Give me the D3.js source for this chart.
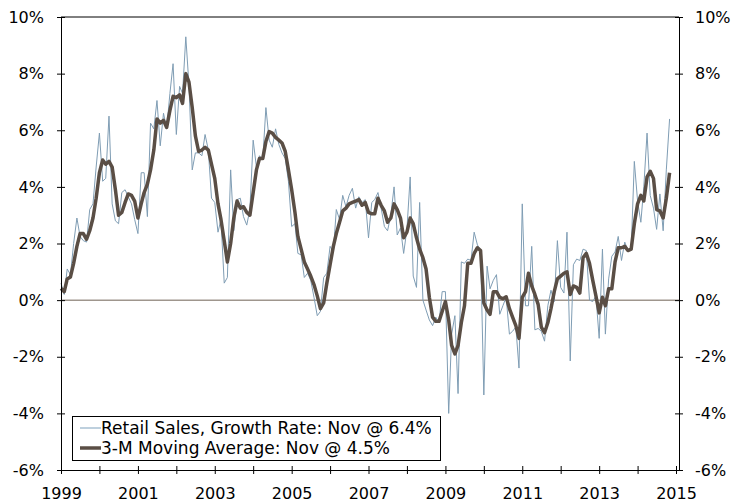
<html>
<head>
    <script src="https://d3js.org/d3.v7.min.js"></script>
    <style>
        body { margin: 0; background: #fff; }
        text { font-family: "DejaVu Sans", Verdana, sans-serif; font-size: 16px; fill: #000; }
        .axis path, .axis line { stroke: #000; stroke-width: 1; }
    </style>
</head>
<body>
    <svg class="chart" width="733" height="502"></svg>

    <script>

      // monthly, Jan 1999 .. Nov 2014 (% y/y)
      var retail = [
        0.6, 0.2, 1.1, 0.9, 2.0, 2.9, 2.25, 2.1, 2.05, 3.2, 3.4, 4.7,
        5.9, 4.2, 4.3, 6.5, 3.4, 2.8, 2.7, 3.8, 3.9, 3.65, 3.4, 2.85,
        2.35, 4.5, 4.5, 2.95, 6.25, 6.05, 7.05, 5.45, 6.6, 6.05, 7.3, 8.35,
        5.85, 7.55, 7.3, 9.3, 7.6, 4.6, 5.2, 5.2, 5.1, 5.85, 5.3, 3.6,
        3.45, 2.4, 2.85, 0.6, 0.8, 4.6, 2.45, 3.55, 3.6, 2.95, 2.65, 3.2,
        5.65, 4.7, 5.1, 4.95, 6.8, 5.65, 5.4, 6.05, 5.5, 5.2, 5.0, 4.2,
        2.6, 2.7, 1.65, 1.6, 0.8, 0.95, 0.7, 0.1, -0.55, -0.4, 0.8, 0.95,
        1.9, 1.7, 3.2, 2.85, 3.7, 3.3, 3.7, 3.95, 3.25, 3.65, 3.45, 3.55,
        2.2, 3.45, 3.55, 3.8, 3.25, 2.6, 2.45, 3.0, 4.0, 2.3, 2.55, 1.65,
        2.5, 4.35, 0.85, 0.45, 3.45, 0.0, -0.35, -0.7, -0.9, -0.6, -0.8, 0.3,
        0.3, -4.0, -1.2, -0.55, -3.3, 1.35, 1.3, 1.45, 1.4, 2.4, 1.95, 1.75,
        -3.35, 1.2, 0.4, 0.7, 0.9, -0.5, -0.2, 0.1, -1.2, -1.1, -0.95, -2.4,
        3.4, -0.2, -0.2, 1.9, -1.05, -1.0, -1.1, -1.45, -0.2, 0.35, -0.05, 2.1,
        0.45, 0.25, 2.4, -2.15, 1.25, 1.45, 1.4, 1.8, 1.75, 0.0, -0.05, 0.15,
        -1.35, 1.8, -1.2, 0.75, 1.55, 1.7, 2.25, 1.4, 2.05, 1.75, 1.75, 4.9,
        3.5, 2.75, 4.0, 5.9, 3.7, 3.25, 2.5, 3.75, 2.45, 4.6, 6.4
      ];

      var movingAvg = [
        0.41, 0.3, 0.75, 0.82, 1.3, 1.9, 2.35, 2.35, 2.15, 2.45, 2.9, 3.6,
        4.5, 4.95, 4.8, 4.9, 4.7, 3.9, 3.0, 3.1, 3.45, 3.75, 3.7, 3.5,
        2.9, 3.4, 3.8, 4.1, 4.6, 5.3, 6.4, 6.25, 6.35, 6.1, 6.7, 7.2,
        7.15, 7.25, 6.95, 8.0, 7.7, 6.8, 5.8, 5.25, 5.3, 5.4, 5.3, 4.8,
        4.3, 3.4, 2.85, 2.1, 1.35, 2.0, 2.9, 3.5, 3.25, 3.3, 3.1, 3.0,
        3.8, 4.6, 5.0, 5.0, 5.6, 5.95, 5.9, 5.75, 5.65, 5.55, 5.25, 4.6,
        3.9, 3.1, 2.25, 1.8, 1.35, 1.1, 0.85, 0.55, 0.15, -0.3, -0.1, 0.6,
        1.25, 1.9, 2.35, 2.75, 3.15, 3.25, 3.4, 3.45, 3.5, 3.55, 3.35, 3.45,
        3.1, 3.05, 3.05, 3.6, 3.35, 3.15, 2.75, 2.9, 3.4, 3.2, 2.9, 2.2,
        2.4, 2.9, 2.7, 2.2, 1.8, 1.5, 1.1, 0.1, -0.6, -0.75, -0.75, -0.4,
        -0.05, -0.7, -1.6, -1.9, -1.6, -0.8, -0.2, 1.3, 1.3, 1.65, 1.85, 1.75,
        -0.1, -0.35, -0.5, 0.3, 0.3, 0.1, 0.05, 0.12, -0.3, -0.6, -0.9, -1.35,
        0.1, 0.3, 0.95, 0.5, 0.2, -0.15, -0.95, -1.15, -0.8, -0.3, 0.3, 0.75,
        0.85, 0.95, 1.0, 0.2, 0.5, 0.45, 0.25, 1.5, 1.65, 1.3, 0.7, 0.15,
        -0.45, 0.1, -0.2, 0.4, 0.4, 1.35, 1.85, 1.85, 1.9, 1.75, 1.8, 2.7,
        3.4, 3.7, 3.5, 4.35, 4.55, 4.3, 3.2, 3.15, 2.9, 3.6, 4.5
      ];

      var yTicks = [-6, -4, -2, 0, 2, 4, 6, 8, 10];
      var yearLabels = [1999, 2001, 2003, 2005, 2007, 2009, 2011, 2013, 2015];
      var legendLabels = ["Retail Sales, Growth Rate: Nov @ 6.4%",
                          "3-M Moving Average: Nov @ 4.5%"];

      var months = d3.timeMonth.range(new Date(1999, 0, 1), new Date(2014, 11, 1));

      var margin = {top: 17, right: 54, bottom: 32, left: 61};
      var width = 733 - margin.left - margin.right;
      var height = 502 - margin.top - margin.bottom;

      var svg = d3.select("svg");
      var g = svg.append("g")
        .attr("transform", "translate(" + margin.left + "," + margin.top + ")");

      var x = d3.scaleTime()
        .domain([new Date(1999, 0, 1), new Date(2015, 0, 1)])
        .range([0, width - 3]);

      var y = d3.scaleLinear()
        .domain([-6, 10])
        .range([height, 0]);

      // frame top line
      g.append("line")
        .attr("x1", 0).attr("x2", width)
        .attr("y1", 0).attr("y2", 0)
        .attr("stroke", "#000");

      // zero line
      g.append("line")
        .attr("x1", 0).attr("x2", width)
        .attr("y1", y(0)).attr("y2", y(0))
        .attr("stroke", "#9f968d")
        .attr("stroke-width", 1.5);

      var line = d3.line()
        .x((d, i) => x(months[i]))
        .y(d => y(d));

      g.append("path")
        .datum(retail.slice(0, months.length))
        .attr("fill", "none")
        .attr("stroke", "#7f9db4")
        .attr("stroke-width", 1)
        .attr("d", line);

      g.append("path")
        .datum(movingAvg.slice(0, months.length))
        .attr("fill", "none")
        .attr("stroke", "#5a4e45")
        .attr("stroke-width", 3.5)
        .attr("stroke-linejoin", "round")
        .attr("d", line);

      // axes
      var fmt = d => d + "%";

      var xAxis = g.append("g")
        .attr("class", "axis")
        .attr("transform", "translate(0," + height + ")")
        .call(d3.axisBottom(x)
          .ticks(d3.timeYear.every(1))
          .tickSizeInner(4).tickSizeOuter(0)
          .tickFormat(d => yearLabels.indexOf(d.getFullYear()) >= 0 ? d.getFullYear() : ""));
      xAxis.select(".domain").attr("d", "M0,0.5H" + (width + 3));
      xAxis.selectAll(".tick line").attr("y1", -4).attr("y2", 4);
      xAxis.selectAll(".tick text").attr("dy", null).attr("y", 29);

      var yLeft = g.append("g")
        .attr("class", "axis")
        .call(d3.axisLeft(y).tickValues(yTicks).tickFormat(fmt)
          .tickSizeInner(4).tickSizeOuter(0));
      yLeft.selectAll(".tick line").attr("x1", -4).attr("x2", 4);
      yLeft.selectAll(".tick text").attr("x", -17);

      var yRight = g.append("g")
        .attr("class", "axis")
        .attr("transform", "translate(" + width + ",0)")
        .call(d3.axisRight(y).tickValues(yTicks).tickFormat(fmt)
          .tickSizeInner(4).tickSizeOuter(0));
      yRight.selectAll(".tick line").attr("x1", -4).attr("x2", 4);
      yRight.selectAll(".tick text").attr("x", 16);

      svg.selectAll(".axis text").style("font-family", "'DejaVu Sans', Verdana, sans-serif").style("font-size", "16px");

      // legend
      var legend = g.append("g").attr("transform", "translate(11,399)");
      legend.append("rect")
        .attr("x", 0.5).attr("y", 0.5)
        .attr("width", 368).attr("height", 44)
        .attr("fill", "#fff")
        .attr("stroke", "#000");

      var legendStyles = [{c: "#a9c1d3", w: 1.5}, {c: "#5a4e45", w: 3.5}];
      var items = legend.selectAll(".item")
        .data(legendLabels)
        .enter()
        .append("g")
        .attr("transform", (d, i) => "translate(0," + (12 + i * 20) + ")");

      items.append("line")
        .attr("x1", 8).attr("x2", 29)
        .attr("stroke", (d, i) => legendStyles[i].c)
        .attr("stroke-width", (d, i) => legendStyles[i].w);

      items.append("text")
        .attr("x", 29)
        .attr("dy", "0.35em")
        .style("font-size", "17px")
        .text(d => d);

    </script>
</body>
</html>
